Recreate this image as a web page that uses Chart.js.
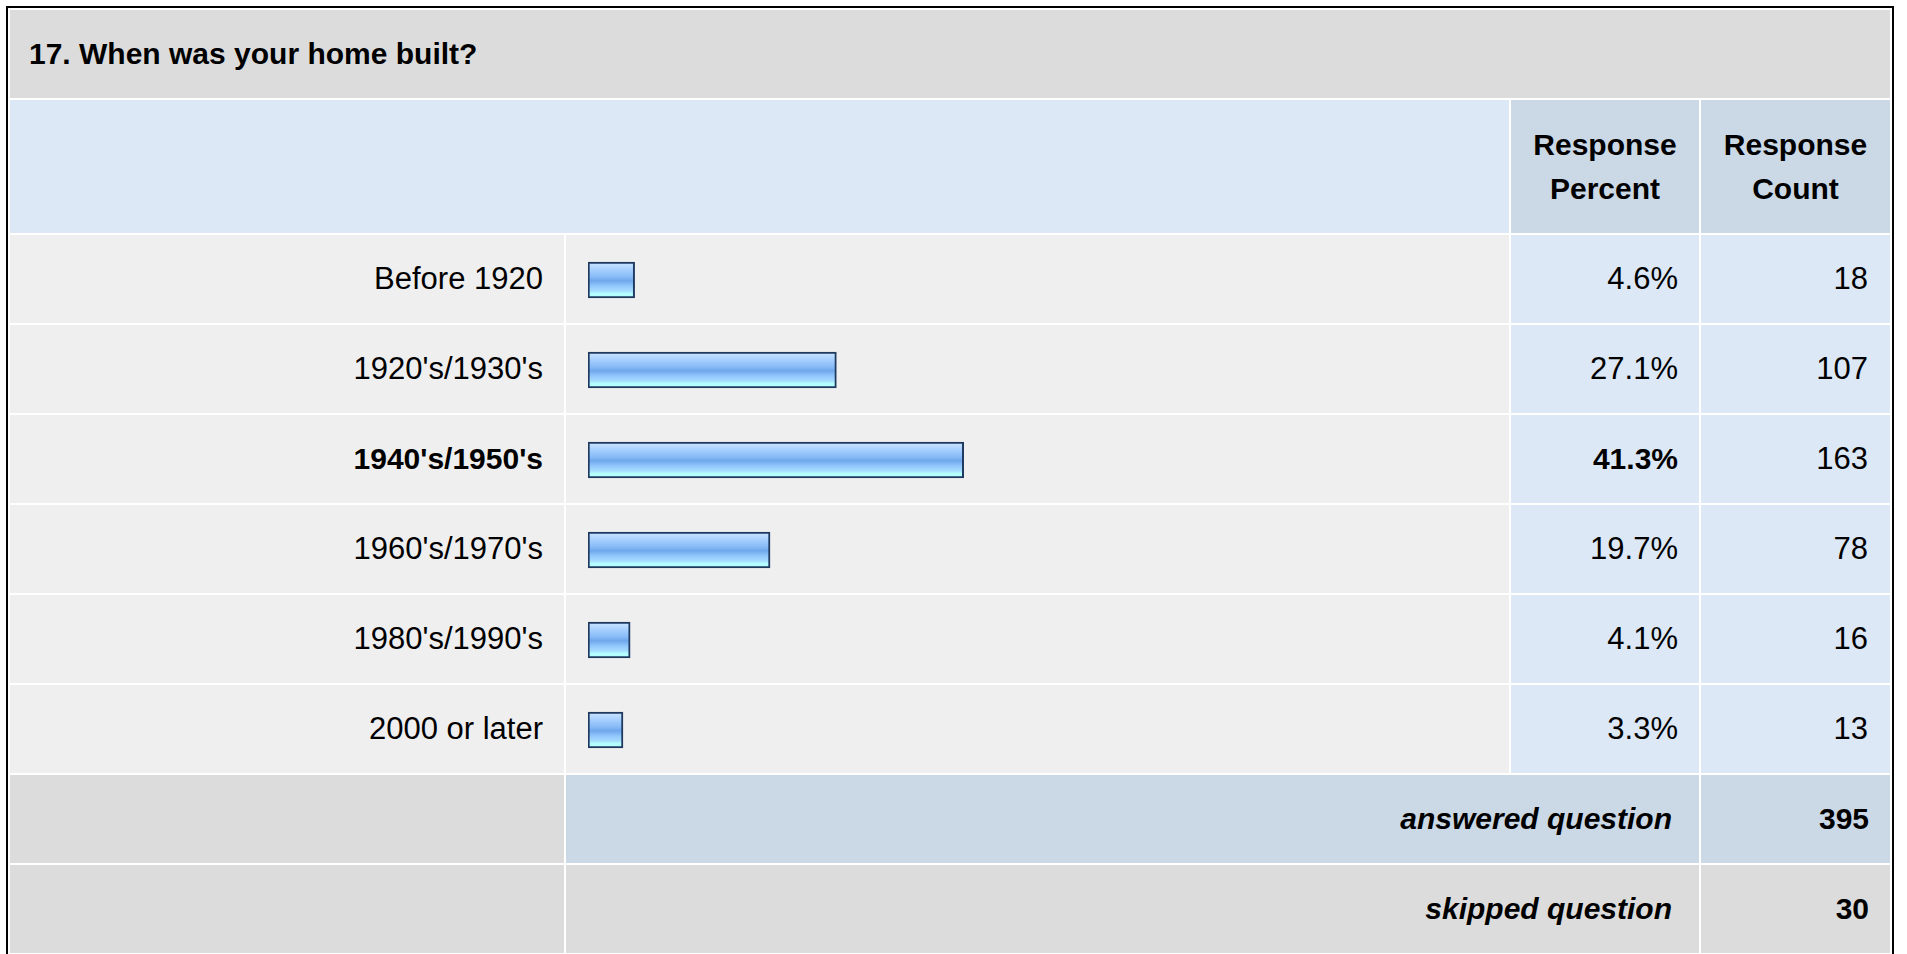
<!DOCTYPE html>
<html>
<head>
    <title>When was your home built?</title>
    <script src="https://cdn.jsdelivr.net/npm/chart.js"></script>
    <style>
        body { margin: 0; background: #fff; font-family: "Liberation Sans", Arial, sans-serif; }
        .frame {
            position: absolute; left: 6px; top: 6px;
            border: 2px solid #000; background: #fff;
        }
        table { border-collapse: separate; border-spacing: 2px; table-layout: fixed; width: 1884px; }
        td { padding: 0; height: 88px; vertical-align: middle; color: #000; font-size: 31px; white-space: nowrap; }
        .title { background: #dcdcdc; font-weight: bold; font-size: 30px; padding-left: 19px; }
        .head { background: #dce8f6; height: 133px; }
        .headcell { background: #cbd8e6; font-weight: bold; font-size: 30px; text-align: center; line-height: 44px; }
        .label { background: #efefef; text-align: right; padding-right: 21px; }
        .bar { background: #efefef; }
        .pct { background: #dce8f6; text-align: right; padding-right: 21px; }
        .cnt { background: #dce8f6; text-align: right; padding-right: 22px; }
        .max { font-weight: bold; font-size: 30px; }
        .sumlabel { text-align: right; padding-right: 27px; font-weight: bold; font-style: italic; font-size: 30px; }
        .sumcnt { text-align: right; padding-right: 21px; font-weight: bold; font-size: 30px; }
        .gray { background: #dcdcdc; }
        .steel { background: #cbd8e6; }
        #chartBox { position: absolute; left: 566px; top: 235px; width: 943px; height: 540px; }
    </style>
</head>
<body>
    <div class="frame">
        <table id="tbl">
            <colgroup>
                <col style="width:554px"><col style="width:943px"><col style="width:188px"><col style="width:189px">
            </colgroup>
            <tbody id="rows"></tbody>
        </table>
    </div>
    <div id="chartBox"><canvas id="chart" width="943" height="540"></canvas></div>

    <script>
        const questionTitle = "17. When was your home built?";
        const categories = ["Before 1920", "1920's/1930's", "1940's/1950's", "1960's/1970's", "1980's/1990's", "2000 or later"];
        const percents = [4.6, 27.1, 41.3, 19.7, 4.1, 3.3];
        const counts = [18, 107, 163, 78, 16, 13];
        const answeredCount = 395;
        const skippedCount = 30;

        // table around the chart
        const maxIdx = percents.indexOf(Math.max(...percents));
        let html = '<tr><td class="title" colspan="4">' + questionTitle + '</td></tr>';
        html += '<tr><td class="head" colspan="2"></td>' +
                '<td class="headcell">Response<br>Percent</td>' +
                '<td class="headcell">Response<br>Count</td></tr>';
        categories.forEach((c, i) => {
            const b = i === maxIdx ? ' max' : '';
            html += '<tr><td class="label' + b + '">' + c + '</td><td class="bar"></td>' +
                    '<td class="pct' + b + '">' + percents[i].toFixed(1) + '%</td>' +
                    '<td class="cnt">' + counts[i] + '</td></tr>';
        });
        html += '<tr><td class="gray"></td><td class="steel sumlabel" colspan="2">answered question</td>' +
                '<td class="steel sumcnt">' + answeredCount + '</td></tr>';
        html += '<tr><td class="gray"></td><td class="gray sumlabel" colspan="2">skipped question</td>' +
                '<td class="gray sumcnt">' + skippedCount + '</td></tr>';
        document.getElementById('rows').innerHTML = html;

        const BAR_H = 36;
        function barFill(context) {
            const chart = context.chart;
            if (!chart.chartArea || !chart.scales.y) return '#8cbcf4';
            const y = chart.scales.y.getPixelForValue(context.dataIndex);
            const g = chart.ctx.createLinearGradient(0, y - BAR_H / 2, 0, y + BAR_H / 2);
            g.addColorStop(0, '#cfe6ff');
            g.addColorStop(0.2, '#a9d1ff');
            g.addColorStop(0.42, '#86baf6');
            g.addColorStop(0.52, '#6fa7ec');
            g.addColorStop(0.65, '#8ec4fa');
            g.addColorStop(0.8, '#a6dcff');
            g.addColorStop(0.88, '#b4ffff');
            g.addColorStop(1, '#b4ffff');
            return g;
        }

        new Chart(document.getElementById('chart').getContext('2d'), {
            type: 'bar',
            data: {
                labels: categories,
                datasets: [{
                    data: percents,
                    base: -0.6,
                    backgroundColor: barFill,
                    borderColor: '#1f3a60',
                    borderWidth: 2,
                    borderSkipped: false,
                    barThickness: BAR_H
                }]
            },
            options: {
                indexAxis: 'y',
                responsive: false,
                animation: false,
                layout: { padding: { left: 22, right: 19, top: 0, bottom: 0 } },
                plugins: { legend: { display: false }, tooltip: { enabled: false } },
                scales: {
                    x: { display: false, min: -0.6, max: 100 },
                    y: { display: false }
                }
            }
        });
    </script>
</body>
</html>
